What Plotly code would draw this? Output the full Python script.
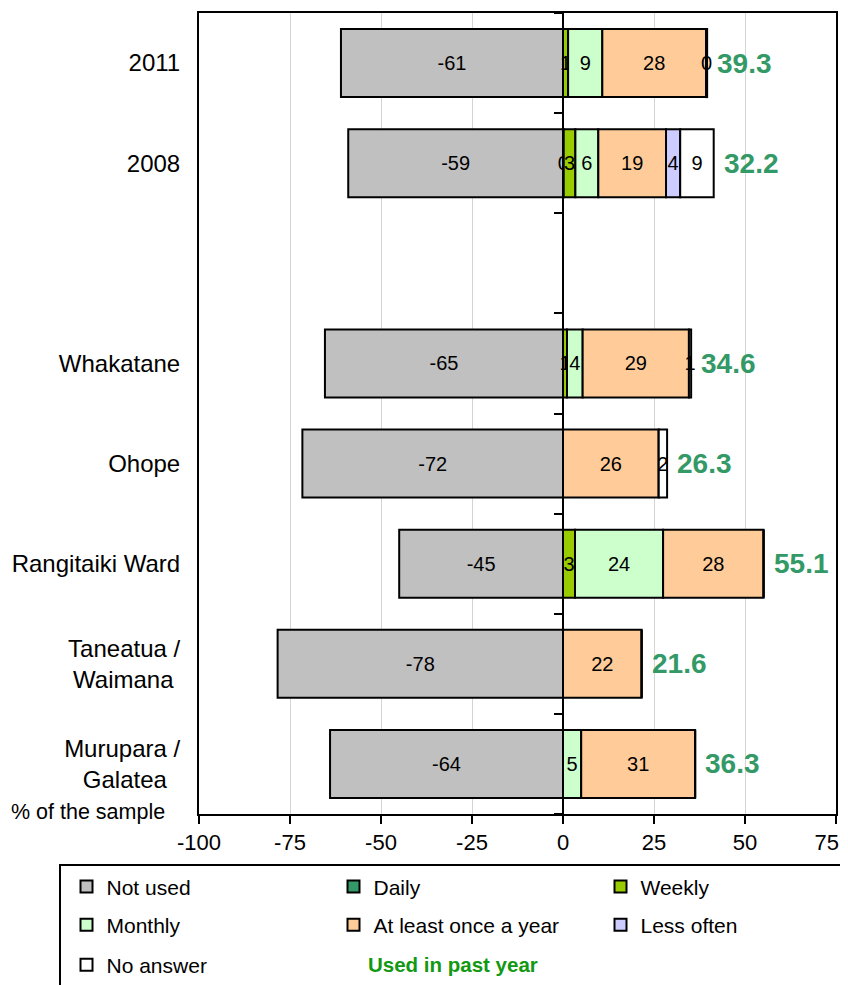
import plotly.graph_objects as go

# ---- data ----
categories = ["2011", "2008", "Whakatane", "Ohope", "Rangitaiki Ward",
              "Taneatua /<br>Waimana&nbsp;", "Murupara /<br>Galatea&nbsp;&nbsp;"]
row_index = [0, 1, 3, 4, 5, 6, 7]          # row 2 is an empty spacer row
not_used = [-61, -59, -65.4, -71.6, -45, -78.4, -64]
daily = [0, 0.2, 0, 0, 0, 0, 0]
weekly = [1.4, 3.2, 1.1, 0, 3.3, 0, 0]
monthly = [9.4, 6.3, 4.3, 0, 24.2, 0, 5.0]
annual = [28.5, 18.6, 29.2, 26.3, 27.6, 21.6, 31.3]
less_often = [0, 3.9, 0, 0, 0, 0, 0]
no_answer = [0.3, 9.2, 0.6, 2.3, 0, 0, 0]
used_past_year = [39.3, 32.2, 34.6, 26.3, 55.1, 21.6, 36.3]
x_ticks = [-100, -75, -50, -25, 0, 25, 50, 75]
x_tick_labels = ["-100", "-75", "-50", "-25", "0", "25", "50", "75&nbsp;&nbsp;&nbsp;"]

series = [
    ("Not used", not_used, "#C0C0C0", "legend"),
    ("Daily", daily, "#339966", "legend"),
    ("Weekly", weekly, "#99CC00", "legend"),
    ("Monthly", monthly, "#CCFFCC", "legend2"),
    ("At least once a year", annual, "#FFCC99", "legend2"),
    ("Less often", less_often, "#CCCCFF", "legend2"),
    ("No answer", no_answer, "#FFFFFF", "legend3"),
]

FONT = "Liberation Sans, Arial, sans-serif"
XMIN, XMAX = -100, 75

fig = go.Figure()
for name, vals, color, leg in series:
    fig.add_trace(go.Bar(
        name=name, orientation="h", y=row_index, x=vals,
        marker=dict(color=color, line=dict(color="black", width=2)),
        width=0.68,
        text=[f"{v:.0f}" if v != 0 else "" for v in vals],
        textposition="inside", insidetextanchor="middle",
        constraintext="none",
        textfont=dict(family=FONT, size=20, color="black"),
        legend=leg, hoverinfo="x+name",
    ))

# dummy trace for the zero-position axis with category tick marks
fig.add_trace(go.Scatter(x=[None], y=[None], yaxis="y2", showlegend=False,
                         hoverinfo="skip"))

# green totals
for i, r in enumerate(row_index):
    pos_sum = daily[i] + weekly[i] + monthly[i] + annual[i] + less_often[i] + no_answer[i]
    fig.add_annotation(x=pos_sum, y=r, xref="x", yref="y", xanchor="left",
                       xshift=8, showarrow=False, text=f"<b>{used_past_year[i]:.1f}</b>",
                       font=dict(family=FONT, size=28, color="#339966"))

fig.add_annotation(x=-0.051, y=0.003, xref="paper", yref="paper", xanchor="right",
                   yanchor="middle", showarrow=False, text="% of the sample",
                   font=dict(family=FONT, size=21.5, color="black"))

fig.add_annotation(x=0.262, y=-0.1885, xref="paper", yref="paper", xanchor="left",
                   yanchor="middle", showarrow=False, text="<b>Used in past year</b>",
                   font=dict(family=FONT, size=20.5, color="#119911"))

# legend frame
fig.add_shape(type="rect", xref="paper", yref="paper", x0=-0.2182, x1=1.06,
              y0=-0.0637, y1=-0.25, line=dict(color="black", width=2),
              fillcolor="rgba(0,0,0,0)")

leg_common = dict(orientation="h", xanchor="left", yanchor="middle", x=-0.208,
                  bgcolor="rgba(0,0,0,0)", borderwidth=0,
                  font=dict(family=FONT, size=21, color="black"),
                  entrywidth=222, entrywidthmode="pixels", traceorder="normal")

zero_pos = (0 - XMIN) / (XMAX - XMIN)

fig.update_layout(
    width=848, height=985,
    margin=dict(l=191, r=20, t=5, b=179, autoexpand=False),
    paper_bgcolor="white", plot_bgcolor="white",
    barmode="relative",
    font=dict(family=FONT, size=22, color="black"),
    showlegend=True,
    legend=dict(leg_common, y=-0.0911),
    legend2=dict(leg_common, y=-0.1386),
    legend3=dict(leg_common, y=-0.1885),
    xaxis=dict(range=[XMIN, XMAX], tickvals=x_ticks, ticktext=x_tick_labels,
               showgrid=True, gridcolor="#D4D4D4", gridwidth=1, zeroline=False,
               showline=True, mirror=True, linecolor="black", linewidth=2,
               ticks="outside", ticklen=8, tickwidth=2, tickcolor="black",
               tickfont=dict(size=22), ticklabeloverflow="allow"),
    yaxis=dict(range=[7.5, -0.5], tickvals=row_index, ticktext=categories,
               showgrid=False, zeroline=False, showline=True, mirror=True,
               linecolor="black", linewidth=2, ticks="", ticklabelstandoff=12,
               tickfont=dict(size=24)),
    yaxis2=dict(overlaying="y", anchor="free", position=zero_pos, side="left",
                range=[7.5, -0.5], showline=True, linecolor="black", linewidth=2,
                ticks="outside", ticklen=8, tickwidth=2, tickcolor="black",
                tickvals=[k - 0.5 for k in range(9)], showticklabels=False,
                showgrid=False, zeroline=False),
)

fig.write_html("out.html")
